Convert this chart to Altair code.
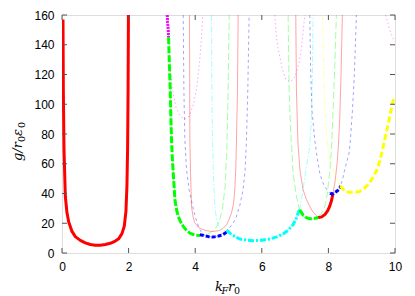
import altair as alt
import pandas as pd

# ---------------- data ----------------
# thick lower-envelope segments
red_a_x = [0.03, 0.04, 0.06, 0.1, 0.15, 0.2, 0.3, 0.4, 0.55, 0.7, 0.85, 1.0, 1.15, 1.3, 1.45, 1.6, 1.7, 1.8, 1.87, 1.92, 1.95, 1.97, 1.985, 1.995]
red_a_y = [157, 110, 70, 38, 27, 21, 14.5, 11, 8.5, 6.8, 5.7, 5.2, 5.2, 5.7, 6.5, 8, 9.5, 13, 18, 28, 45, 70, 110, 160]

mag_a_x = [3.16, 3.17, 3.19, 3.2]
mag_a_y = [160, 155, 150, 145]

green_a_x = [3.2, 3.22, 3.25, 3.27, 3.29, 3.31, 3.34, 3.39, 3.44, 3.49, 3.56, 3.64, 3.74, 3.84, 3.95, 4.05, 4.14]
green_a_y = [145, 130, 110, 90, 76, 65, 54, 36, 29, 24.6, 21, 17.9, 15.2, 13.4, 12.4, 12, 11.8]

blue_a_x = [4.14, 4.22, 4.3, 4.4, 4.5, 4.6, 4.7, 4.8, 4.88, 4.95, 4.99]
blue_a_y = [12.3, 12, 11.5, 11, 10.8, 11, 11.4, 12, 13, 14.3, 15.2]

cyan_a_x = [4.95, 5.1, 5.34, 5.55, 5.74, 6.0, 6.24, 6.45, 6.64, 6.8, 6.94, 7.04, 7.09, 7.14]
cyan_a_y = [15.2, 12.2, 9.4, 8.6, 8.3, 8.6, 9.4, 10.8, 12.8, 15.5, 19, 23.5, 26.9, 29.5]

green_b_x = [7.14, 7.24, 7.34, 7.44, 7.54, 7.64, 7.72]
green_b_y = [29, 25.5, 23.8, 23, 23, 23.5, 24]

red_b_x = [7.7, 7.8, 7.9, 7.98, 8.04, 8.09, 8.13]
red_b_y = [23.8, 24.3, 26, 28.5, 31.5, 35, 39.2]

blue_b_x = [8.05, 8.1, 8.16, 8.22, 8.28, 8.34, 8.37]
blue_b_y = [40.3, 39.7, 40, 41, 42, 43.7, 45]

yellow_b_x = [8.36, 8.42, 8.49, 8.6, 8.74, 8.85, 8.94, 9.05, 9.19, 9.3, 9.39, 9.5, 9.59, 9.69, 9.79, 9.89, 9.97]
yellow_b_y = [45, 43.5, 41.4, 40.8, 40.8, 41, 41.4, 43, 45.9, 49.5, 52.6, 58.5, 66, 76, 86, 97, 105]

# thin full branches
t_mag1_x = [3.17, 3.2, 3.25, 3.32, 3.42, 3.55, 3.69, 3.82, 3.95, 4.05, 4.13, 4.19, 4.23]
t_mag1_y = [160, 145, 125, 110, 98, 92, 90, 92, 100, 112, 128, 145, 160]

t_green1_x = [3.19, 3.22, 3.25, 3.28, 3.31, 3.35, 3.4, 3.5, 3.65, 3.85, 4.0, 4.15, 4.3, 4.45, 4.6, 4.72, 4.82, 4.9, 4.95, 4.99, 5.02]
t_green1_y = [160, 143, 110, 85, 68, 52, 38, 26, 18, 13.5, 12, 11.8, 12.3, 13.5, 16, 21, 30, 45, 70, 110, 160]

t_blue1_x = [3.64, 3.66, 3.69, 3.74, 3.82, 3.92, 4.02, 4.12, 4.22, 4.35, 4.5, 4.65, 4.8, 4.95, 5.05, 5.15, 5.24, 5.34, 5.44, 5.5, 5.54, 5.58, 5.62]
t_blue1_y = [160, 110, 76, 56, 42, 32, 23, 16.5, 12.8, 11.2, 10.8, 11.2, 12.8, 15, 17.5, 20.5, 24.6, 32, 42.6, 56, 76, 110, 160]

t_red1_x = [3.83, 3.835, 3.84, 3.86, 3.89, 3.94, 3.99, 4.09, 4.2, 4.35, 4.49, 4.62, 4.74, 4.85, 4.94, 5.02, 5.09, 5.15, 5.19, 5.22, 5.24, 5.27, 5.29]
t_red1_y = [160, 110, 76, 54, 31, 24, 20.2, 17.5, 16, 15, 14.5, 14.7, 15.2, 16.8, 19, 22.5, 26.9, 33, 42.6, 58, 76, 110, 160]

t_cyan1_x = [4.49, 4.5, 4.52, 4.55, 4.59, 4.64, 4.69, 4.77, 4.86, 4.95, 5.1, 5.34, 5.74, 6.24, 6.64, 6.94, 7.09, 7.14, 7.24, 7.34, 7.44, 7.49, 7.52, 7.54]
t_cyan1_y = [160, 110, 76, 50, 31, 23, 18.5, 16, 15, 14.5, 12, 9.4, 8.3, 9.4, 12.8, 19, 26.9, 29.5, 42.6, 58, 71.7, 90, 120, 160]

t_mag2_x = [6.39, 6.42, 6.47, 6.54, 6.62, 6.72, 6.84, 6.96, 7.05, 7.12, 7.19, 7.24, 7.29]
t_mag2_y = [160, 150, 140, 132, 123, 117, 115, 117, 122, 128, 138, 148, 160]

t_green2_x = [6.79, 6.82, 6.87, 6.9, 6.94, 7.04, 7.12, 7.2, 7.3, 7.4, 7.5, 7.6, 7.7, 7.8, 7.89, 7.97, 8.04, 8.09, 8.14, 8.19, 8.24]
t_green2_y = [160, 110, 80, 70, 54, 38, 30.2, 26, 23.5, 22.5, 22.6, 23.2, 24.5, 27, 31, 40, 55, 69, 95, 125, 160]

t_red2_x = [7.02, 7.04, 7.07, 7.09, 7.15, 7.24, 7.34, 7.44, 7.54, 7.62, 7.7, 7.8, 7.9, 7.98, 8.04, 8.09, 8.13, 8.2, 8.26, 8.3, 8.34, 8.38, 8.42]
t_red2_y = [160, 110, 85, 72, 55, 42.6, 36, 31.3, 27.5, 25.5, 23.8, 24.3, 26, 28.5, 31.5, 35, 39.2, 48, 60, 72, 90, 120, 160]

t_blue2_x = [7.44, 7.47, 7.51, 7.59, 7.67, 7.74, 7.82, 7.89, 7.97, 8.04, 8.1, 8.16, 8.22, 8.28, 8.34, 8.42, 8.49, 8.56, 8.62, 8.66, 8.72, 8.78, 8.84]
t_blue2_y = [160, 120, 95, 76, 63, 53.8, 48, 44.8, 42, 40.3, 39.7, 40, 41, 42, 43.7, 49, 56, 62, 67, 76, 95, 120, 160]

t_yellow2_x = [7.82, 7.85, 7.88, 7.92, 7.97, 8.04, 8.12, 8.2, 8.28, 8.34, 8.4]
t_yellow2_y = [160, 130, 110, 88, 72, 64, 58, 53, 48.5, 46, 43.5]

t_mag3_x = [9.72, 9.78, 9.84, 9.89, 9.95, 10.0]
t_mag3_y = [160, 155, 150, 147, 144, 142]

x_ticks = [0, 2, 4, 6, 8, 10]
y_ticks = [0, 20, 40, 60, 80, 100, 120, 140, 160]

# ---------------- chart ----------------
W, H = 333, 238
xs = alt.Scale(domain=[0, 10], nice=False, zero=False)
ys = alt.Scale(domain=[0, 160], nice=False, zero=False)
x_axis = alt.Axis(values=x_ticks, ticks=False, domain=False, grid=False, title=None,
                  labelFont="Liberation Sans", labelFontSize=12, labelColor="black",
                  labelPadding=8, labelFlush=False)
y_axis = alt.Axis(values=y_ticks, ticks=False, domain=False, grid=False, title=None,
                  labelFont="Liberation Sans", labelFontSize=12, labelColor="black",
                  labelPadding=8, labelFlush=False)

COL = {"red": "#ff0000", "green": "#00ff00", "blue": "#0000ff",
       "magenta": "#ff00ff", "cyan": "#00ffff", "yellow": "#ffff00"}
DASH = {"red": None, "green": [7, 3], "blue": [3, 3], "magenta": [1.5, 2.5],
        "cyan": [6, 2, 1.5, 2], "yellow": [5, 2, 1.5, 2, 1.5, 2]}
DASH_THICK = {"red": None, "green": [7, 2], "blue": [4, 2], "magenta": [2, 1],
              "cyan": [6, 2, 2, 2], "yellow": [6, 3]}


def line(xv, yv, col, thick):
    df = pd.DataFrame({"x": xv, "y": yv, "o": list(range(len(xv)))})
    kw = dict(color=COL[col], clip=True, strokeCap="butt", strokeJoin="round")
    if thick:
        kw["strokeWidth"] = 3
        d = DASH_THICK[col]
    else:
        kw["strokeWidth"] = 1
        kw["opacity"] = 0.36
        d = DASH[col]
    if d:
        kw["strokeDash"] = d
    return alt.Chart(df).mark_line(**kw).encode(
        x=alt.X("x:Q", scale=xs, axis=x_axis),
        y=alt.Y("y:Q", scale=ys, axis=y_axis),
        order="o:Q",
    )


layers = []
thin = [
    (t_mag1_x, t_mag1_y, "magenta"), (t_green1_x, t_green1_y, "green"),
    (t_blue1_x, t_blue1_y, "blue"), (t_red1_x, t_red1_y, "red"),
    (t_cyan1_x, t_cyan1_y, "cyan"), (t_mag2_x, t_mag2_y, "magenta"),
    (t_green2_x, t_green2_y, "green"), (t_red2_x, t_red2_y, "red"),
    (t_blue2_x, t_blue2_y, "blue"), (t_yellow2_x, t_yellow2_y, "yellow"),
    (t_mag3_x, t_mag3_y, "magenta"),
]
for xv, yv, c in thin:
    layers.append(line(xv, yv, c, False))

thick = [
    (red_a_x, red_a_y, "red"), (mag_a_x, mag_a_y, "magenta"),
    (green_a_x, green_a_y, "green"), (blue_a_x, blue_a_y, "blue"),
    (cyan_a_x, cyan_a_y, "cyan"), (green_b_x, green_b_y, "green"),
    (red_b_x, red_b_y, "red"), (blue_b_x, blue_b_y, "blue"),
    (yellow_b_x, yellow_b_y, "yellow"),
]
for xv, yv, c in thick:
    layers.append(line(xv, yv, c, True))

# inward (mirrored) ticks
xt = pd.DataFrame({"v": x_ticks})
yt = pd.DataFrame({"v": y_ticks})
tick_kw = dict(color="#555555", strokeWidth=1)
xenc = alt.X("v:Q", scale=xs, axis=x_axis)
yenc = alt.Y("v:Q", scale=ys, axis=y_axis)
layers.append(alt.Chart(xt).mark_rule(**tick_kw).encode(x=xenc, y=alt.value(H), y2=alt.value(H - 5)))
layers.append(alt.Chart(xt).mark_rule(**tick_kw).encode(x=xenc, y=alt.value(0), y2=alt.value(5)))
layers.append(alt.Chart(yt).mark_rule(**tick_kw).encode(y=yenc, x=alt.value(0), x2=alt.value(5)))
layers.append(alt.Chart(yt).mark_rule(**tick_kw).encode(y=yenc, x=alt.value(W), x2=alt.value(W - 5)))

# x title k_F r_0
title_parts = [("k", 153, H + 38, 13, "italic"), ("F", 159.5, H + 41, 9.5, "italic"),
               ("r", 166, H + 38, 13, "italic"), ("0", 172, H + 41, 9.5, "normal")]
for t, px, py, fs, st in title_parts:
    layers.append(
        alt.Chart(pd.DataFrame({"t": [t]})).mark_text(
            font="DejaVu Serif", fontStyle=st, fontSize=fs, align="left",
            baseline="alphabetic", color="black"
        ).encode(text="t:N", x=alt.value(px), y=alt.value(py))
    )

# y title g/r_0 eps_0 (rotated, built from pieces along the vertical)
y_parts = [("g/r", -40, 146, 13, "italic", 0), ("0", -37, 127, 9.5, "normal", 0),
           ("ε", -40, 121, 13, "italic", 0), ("0", -37, 113, 9.5, "normal", 0)]
for t, px, py, fs, st, _ in y_parts:
    layers.append(
        alt.Chart(pd.DataFrame({"t": [t]})).mark_text(
            font="DejaVu Serif", fontStyle=st, fontSize=fs, align="left",
            baseline="alphabetic", color="black", angle=270
        ).encode(text="t:N", x=alt.value(px), y=alt.value(py))
    )

chart = alt.layer(*layers).properties(
    width=W, height=H,
    autosize=alt.AutoSizeParams(type="none"),
    padding={"left": 54, "top": 7, "right": 12, "bottom": 43},
).configure_view(stroke="black", strokeWidth=1.2).configure(background="white")

chart.save("out.html", embed_options={"renderer": "svg", "actions": False})
